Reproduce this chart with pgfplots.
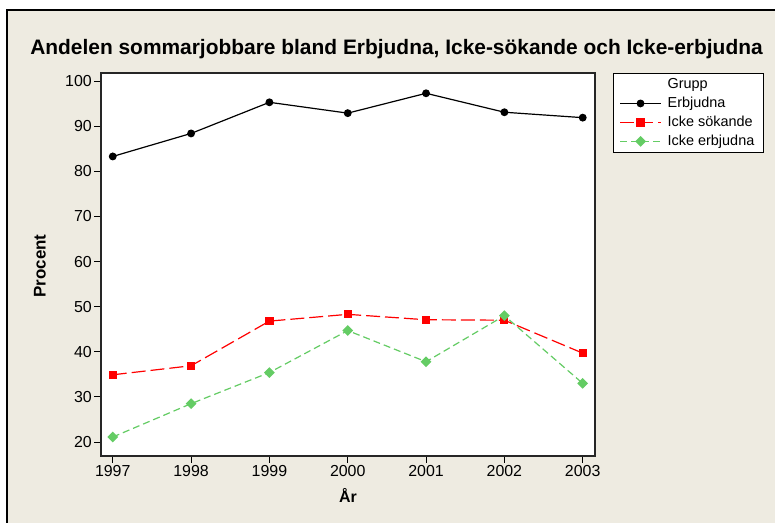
\documentclass[border=0pt]{standalone}
\usepackage{pgfplots}
\pgfplotsset{compat=1.18}
\usepackage{fontspec}
\setmainfont{Liberation Sans}
\definecolor{bg}{RGB}{238,235,225}
\definecolor{mgreen}{RGB}{100,204,100}
\begin{document}
\begin{tikzpicture}[x=1bp,y=1bp]
\path[use as bounding box] (0,0) rectangle (775,523);
\fill[bg] (7,0) rectangle (775,513);
\draw[line width=1.5bp] (7,0) -- (7,513) -- (775,513);
\node[anchor=base, font=\bfseries\fontsize{21}{21}\selectfont] at (396.5,468) {Andelen sommarjobbare bland Erbjudna, Icke-sökande och Icke-erbjudna};
\node[rotate=90, font=\bfseries\fontsize{17}{17}\selectfont] at (40,257) {Procent};
\node[anchor=base, font=\bfseries\fontsize{16}{16}\selectfont] at (348,20) {År};
\begin{axis}[
  at={(101bp,67bp)}, anchor=south west,
  scale only axis, width=494bp, height=383bp,
  xmin=1996.85, xmax=2003.157, ymin=16.9, ymax=101.8,
  xtick={1997,1998,1999,2000,2001,2002,2003},
  ytick={20,30,40,50,60,70,80,90,100},
  /pgf/number format/1000 sep={},
  /pgf/number format/assume math mode=true,
  tick label style={font=\fontsize{16}{16}\selectfont},
  yticklabel style={inner xsep=2bp},
  xticklabel style={inner ysep=2bp},
  tick align=outside, tick pos=left,
  major tick length=7bp,
  every tick/.style={black, line width=1bp},
  axis line style={line width=1.2bp, black!85},
  axis background/.style={fill=white},
  legend cell align=left,
  every axis plot/.append style={legend image code/.code={\draw[mark repeat=2,mark phase=2,##1] plot coordinates {(0bp,0bp) (20.5bp,0bp) (41bp,0bp)};}},
  legend style={at={(1,1)}, anchor=north west, xshift=18bp, draw=black, line width=0.8bp, fill=white,
    font=\fontsize{14.5}{14.5}\selectfont, inner xsep=6bp, inner ysep=4bp, row sep=4bp,
    column sep=3bp,
    nodes={inner ysep=1.5bp, inner xsep=3bp}},
]
\addlegendimage{empty legend}
\addlegendentry{Grupp}
\addplot[black, line width=1.2bp, mark=*, mark size=3.3bp, mark options={solid}] coordinates {
(1997,83.3) (1998,88.4) (1999,95.3) (2000,92.9) (2001,97.3) (2002,93.1) (2003,91.9)};
\addlegendentry{Erbjudna}
\addplot[red, line width=1.2bp, dash pattern=on 14bp off 5bp, mark=square*, mark size=3.5bp, mark options={solid}] coordinates {
(1997,34.9) (1998,36.9) (1999,46.8) (2000,48.3) (2001,47.1) (2002,47.0) (2003,39.7)};
\addlegendentry{Icke sökande}
\addplot[mgreen, line width=1.2bp, dash pattern=on 7bp off 4bp, mark=square*, mark size=3.2bp, mark options={solid, rotate=45}] coordinates {
(1997,21.1) (1998,28.5) (1999,35.4) (2000,44.7) (2001,37.8) (2002,48.0) (2003,33.0)};
\addlegendentry{Icke erbjudna}
\end{axis}
\end{tikzpicture}
\end{document}
